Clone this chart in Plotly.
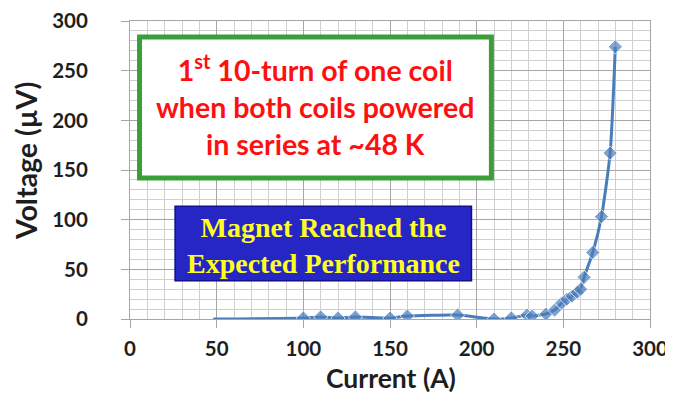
import plotly.graph_objects as go

current_a = [48, 100, 110, 120, 130, 150, 160, 189, 210, 220, 229, 232, 240, 245,
             249, 252, 255, 258, 260, 262, 267, 272, 277, 280]
voltage_uv = [0, 1, 2, 1, 2, 1, 3, 4, 0, 1, 4, 3, 5, 9,
              16, 20, 23, 27, 30, 42, 67, 103, 167, 274]
marker_sizes = [0] + [11] * (len(current_a) - 1)

x_ticks = [0, 50, 100, 150, 200, 250, 300]
y_ticks = [0, 50, 100, 150, 200, 250, 300]

blue = "#4A7EBB"
fig = go.Figure()
fig.add_trace(go.Scatter(
    x=current_a, y=voltage_uv, mode="lines+markers",
    line=dict(color=blue, width=3, shape="spline", smoothing=0.6),
    marker=dict(symbol="diamond", size=marker_sizes, color=blue),
    showlegend=False, hoverinfo="skip"))

tick_font = dict(family="Lato", size=20.5, color="#1E1E1E", weight="bold")
axis_common = dict(
    showgrid=True, gridcolor="#A6A6A6", gridwidth=1,
    minor=dict(showgrid=True, gridcolor="#CFCFCF", gridwidth=1, dtick=10),
    showline=True, linecolor="#A6A6A6", linewidth=1,
    ticks="outside", ticklen=8, tickcolor="#A6A6A6",
    tickfont=tick_font, zeroline=False, mirror=True, automargin=False,
    ticklabeloverflow="allow",
)
fig.update_xaxes(range=[0, 300], tickvals=x_ticks, ticktext=[str(v) for v in x_ticks],
                 ticklabelstandoff=3, **axis_common)
fig.update_yaxes(range=[0, 300], tickvals=y_ticks, ticktext=[str(v) for v in y_ticks],
                 ticklabelstandoff=29, **axis_common)

title_font = dict(family="Lato", color="#1E1E1E", weight="bold")
fig.add_annotation(xref="paper", yref="paper", x=0.502, y=-0.197, showarrow=False,
                   xanchor="center", yanchor="middle",
                   text="Current (A)", font=dict(size=26.5, **title_font))
fig.add_annotation(xref="paper", yref="paper", x=-0.2, y=0.53, showarrow=False,
                   xanchor="center", yanchor="middle",
                   text="Voltage (µV)", textangle=-90, font=dict(size=28.5, **title_font))

# green box
fig.add_shape(type="rect", xref="x", yref="y", x0=5.5, x1=208.5, y0=142, y1=284,
              line=dict(color="#3A9E3A", width=5), fillcolor="white", layer="above")
fig.add_annotation(xref="x", yref="y", x=107, y=215, showarrow=False,
                   xanchor="center", yanchor="middle",
                   text="1<sup>st</sup> 10-turn of one coil<br>when both coils powered<br>in series at ~48 K",
                   font=dict(family="Lato", size=28.5, color="#FF1010", weight="bold"),
                   align="center")

# blue box
fig.add_shape(type="rect", xref="x", yref="y", x0=26, x1=197, y0=38.5, y1=113.5,
              line=dict(color="#10108A", width=1.5), fillcolor="#2626C4", layer="above")
fig.add_annotation(xref="x", yref="y", x=111.5, y=74, showarrow=False,
                   xanchor="center", yanchor="middle",
                   text="Magnet Reached the<br>Expected Performance",
                   font=dict(family="Liberation Serif", size=28, color="#FFFF20", weight="bold"),
                   align="center")

# the page body adds an 8px offset; size the figure so the plot lands in place
fig.update_layout(
    width=665, height=394,
    margin=dict(l=122, r=23, t=13, b=83),
    paper_bgcolor="white", plot_bgcolor="white",
)
fig.write_html("out.html")
